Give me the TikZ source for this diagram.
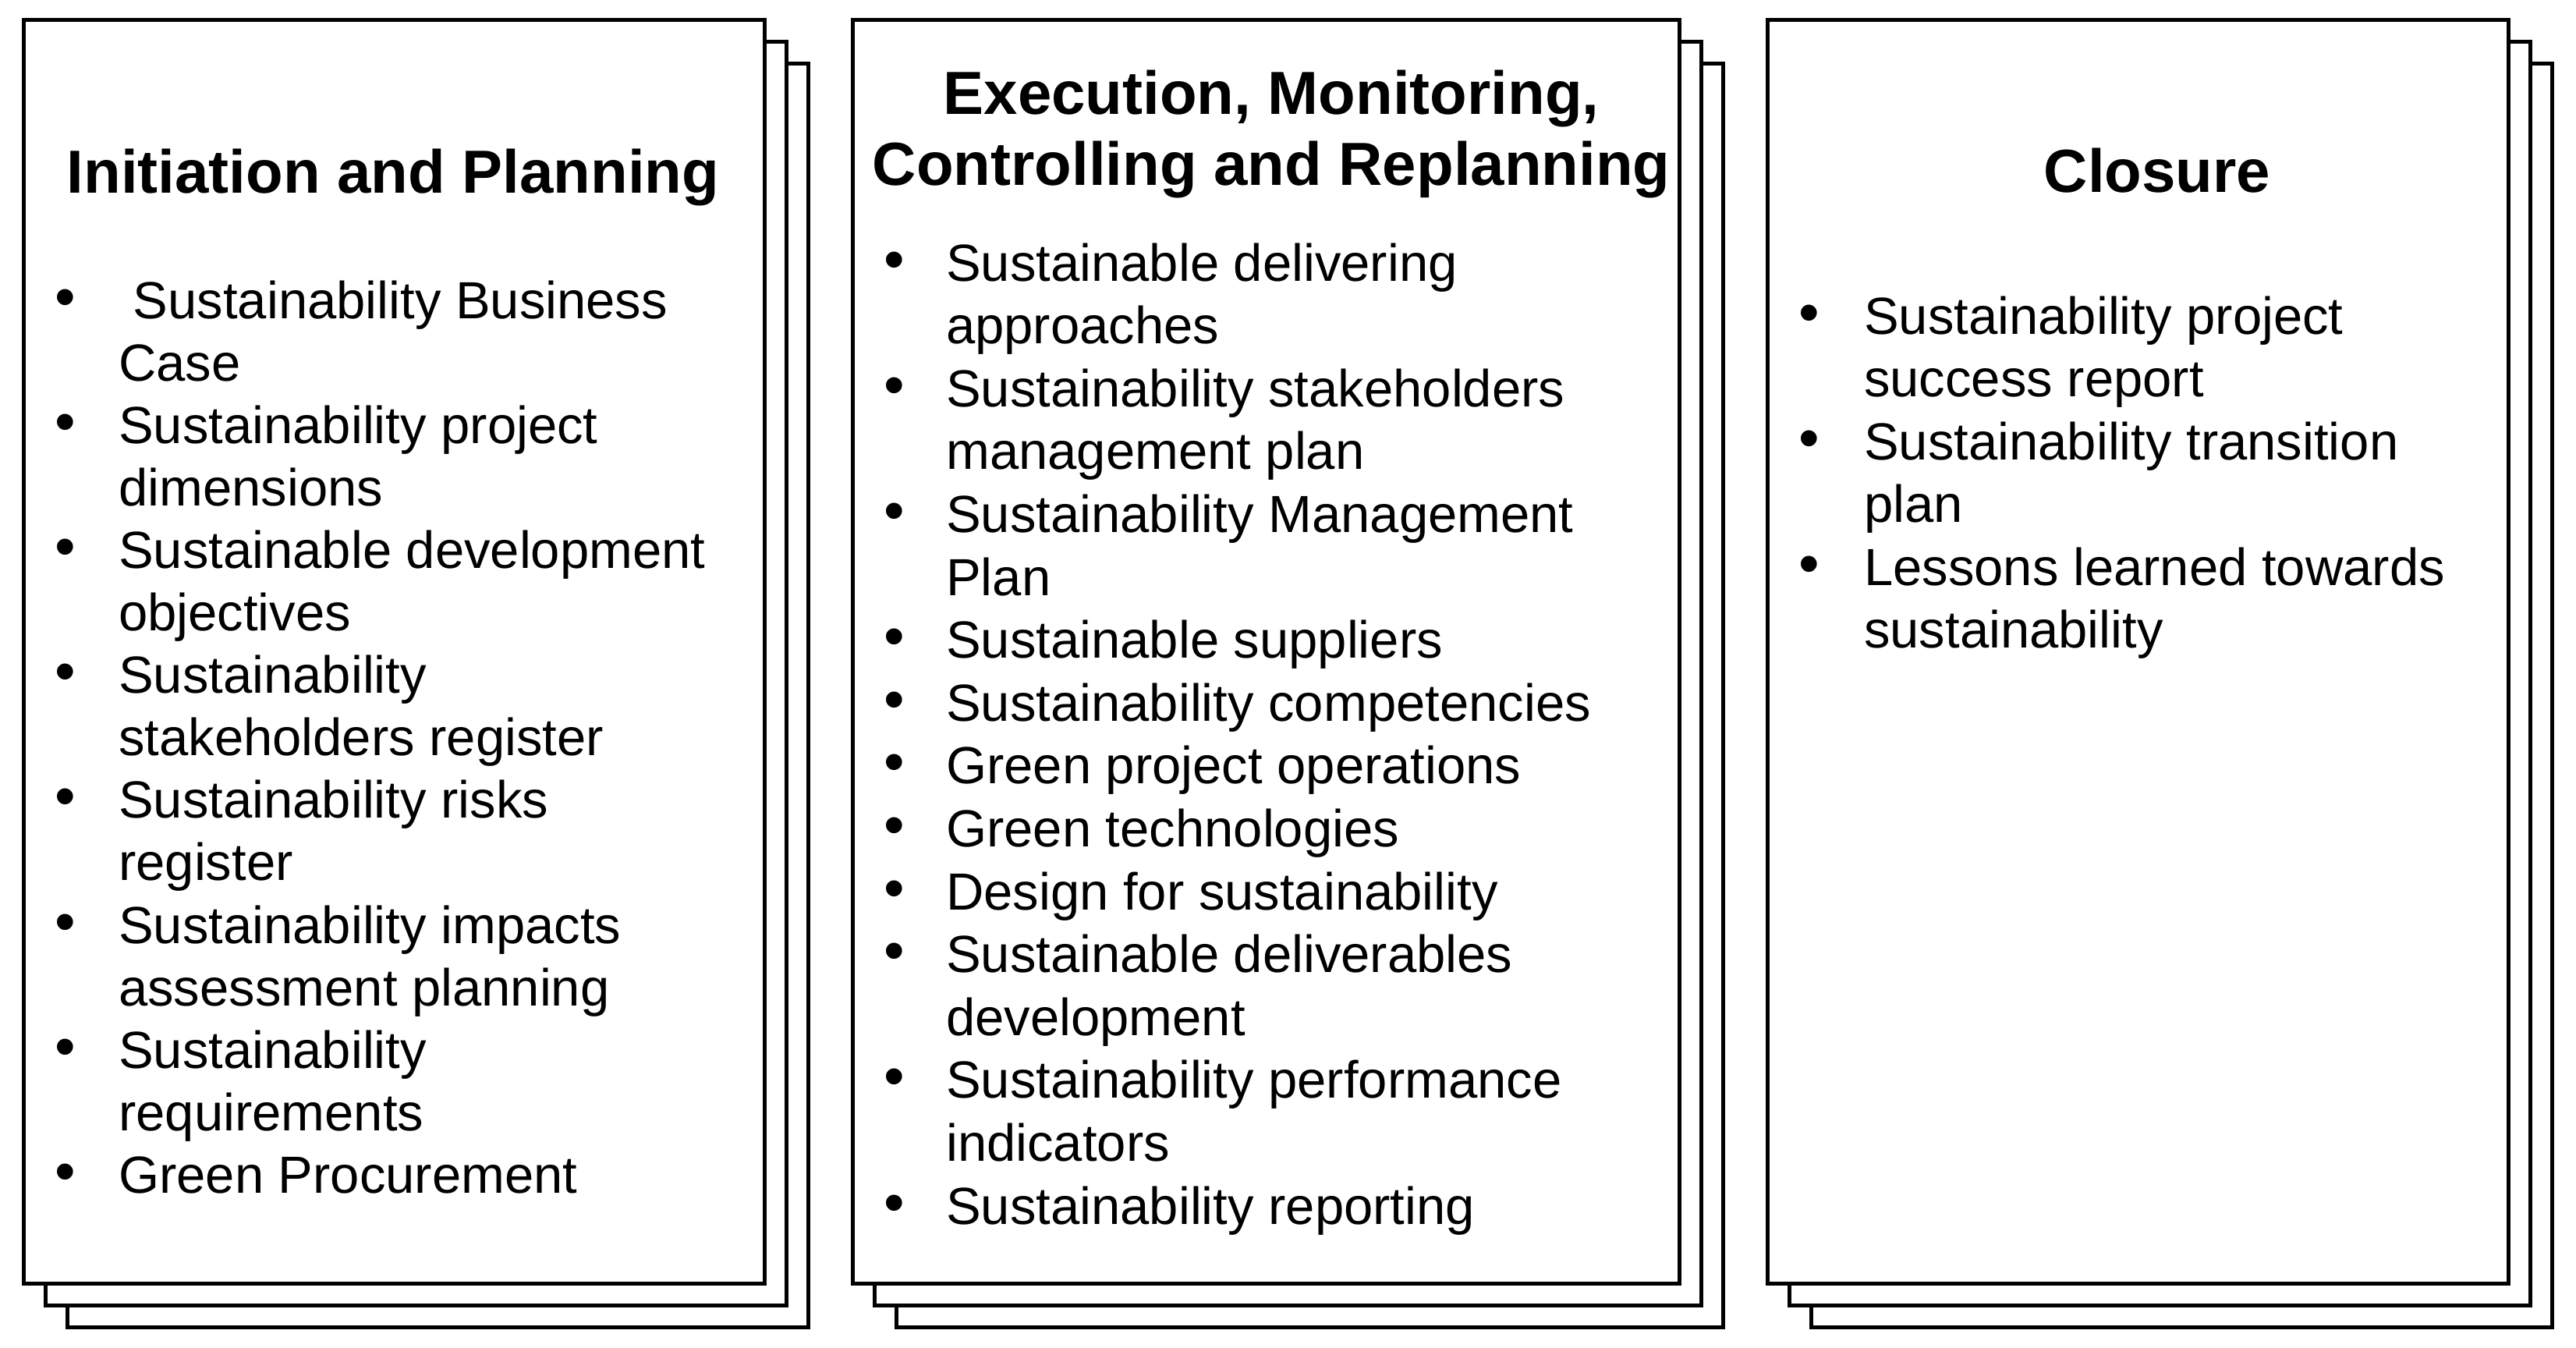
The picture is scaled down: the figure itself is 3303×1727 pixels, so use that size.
\documentclass[tikz,border=0pt]{standalone}
\usepackage{fontspec}
\setmainfont{Liberation Sans}
\begin{document}
\begin{tikzpicture}[x=1pt,y=-1pt,
  sheet/.style={draw=black, fill=white, line width=5pt},
  body/.style={font=\fontsize{67}{80}\selectfont, inner sep=0pt, anchor=base west},
  bul/.style={font=\fontsize{76}{80}\selectfont, inner sep=0pt, anchor=base},
  ttl/.style={font=\fontsize{78}{91}\selectfont\bfseries, inner sep=0pt, anchor=base}]
\useasboundingbox[fill=white] (0,0) rectangle (3303,1727);
% ---- stacked sheets
\foreach \xa/\xb/\n in {30/980/one, 1093/2153/two, 2266/3216/three}{
  \draw[sheet] (\xa+56,81) rectangle (\xb+56,1701);
  \draw[sheet] (\xa+28,53) rectangle (\xb+28,1673);
  \draw[sheet] (\xa,25) rectangle (\xb,1645);
}
% ---- titles
\node[ttl] (t1) at (504,247) {Initiation and Planning};
\node[ttl] (t2a) at (1630,146) {Execution, Monitoring,};
\node[ttl] (t2b) at (1630,237) {Controlling and Replanning};
\node[ttl] (t3) at (2766,246) {Closure};
% ---- box 1 list
\foreach \t [count=\i from 0] in {{\ Sustainability Business},{Case},{Sustainability project},{dimensions},{Sustainable development},{objectives},{Sustainability},{stakeholders register},{Sustainability risks},{register},{Sustainability impacts},{assessment planning},{Sustainability},{requirements},{Green Procurement}}
  \node[body] (a\i) at (152,{408+80.1*\i}) {\t};
\foreach \k in {0,2,4,6,8,10,12,14}
  \node[bul] (ab\k) at (84,{406+80.1*\k}) {•};
% ---- box 2 list
\foreach \t [count=\i from 0] in {{Sustainable delivering},{approaches},{Sustainability stakeholders},{management plan},{Sustainability Management},{Plan},{Sustainable suppliers},{Sustainability competencies},{Green project operations},{Green technologies},{Design for sustainability},{Sustainable deliverables},{development},{Sustainability performance},{indicators},{Sustainability reporting}}
  \node[body] (b\i) at (1213,{360+80.6*\i}) {\t};
\foreach \k in {0,2,4,6,7,8,9,10,11,13,15}
  \node[bul] (bb\k) at (1147,{358+80.6*\k}) {•};
% ---- box 3 list
\foreach \t [count=\i from 0] in {{Sustainability project},{success report},{Sustainability transition},{plan},{Lessons learned towards},{sustainability}}
  \node[body] (c\i) at (2390,{428+80.5*\i}) {\t};
\foreach \k in {0,2,4}
  \node[bul] (cb\k) at (2320,{426+80.5*\k}) {•};
\end{tikzpicture}
\end{document}
